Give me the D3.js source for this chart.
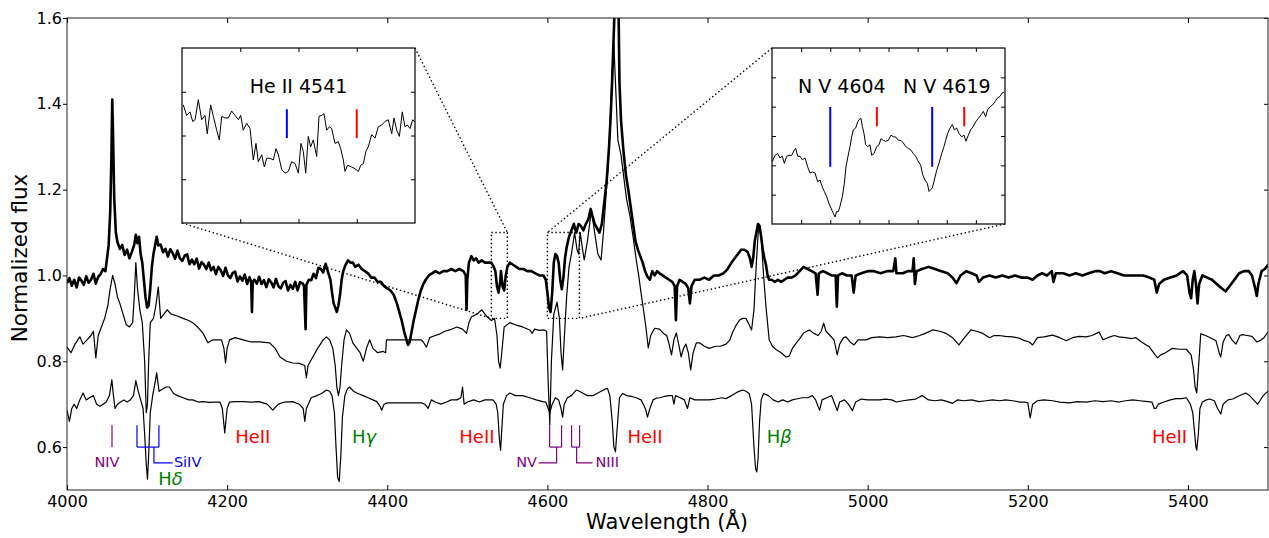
<!DOCTYPE html>
<html>
<head>
<meta charset="utf-8">
<script src="https://cdn.jsdelivr.net/npm/d3@7"></script>
<style>
  body { margin: 0; background: #fff; }
  svg { font-family: "DejaVu Sans", sans-serif; }
</style>
</head>
<body>
<svg id="chart" width="1269" height="538"></svg>
<script>
// --- data: [wavelength (A), normalized flux] ---
const topSpec = [
  [4000,0.982],[4003,0.994],[4006,0.976],[4009,0.99],[4012,0.972],[4015,0.995],[4018,0.988],[4021,0.978],[4024,0.998],[4027,0.983],
  [4030,0.99],[4033,1.004],[4036,0.981],[4039,0.997],[4042,1.003],[4045,1.015],[4048,1.01],[4050,1.04],[4052,1.07],[4054,1.15],
  [4055.5,1.28],[4056.5,1.41],[4057.5,1.33],[4059,1.18],[4061,1.1],[4063,1.078],[4066,1.062],[4069,1.071],[4072,1.048],[4075,1.06],
  [4078,1.04],[4081,1.055],[4084,1.072],[4086,1.095],[4088,1.075],[4090,1.09],[4092,1.05],[4094,1.03],[4096,0.99],[4098,0.95],
  [4100,0.925],[4102,0.93],[4104,0.97],[4106,1.02],[4108,1.05],[4110,1.07],[4112,1.09],[4114,1.07],[4117,1.072],[4120,1.054],
  [4123,1.062],[4126,1.044],[4129,1.061],[4132,1.052],[4135,1.039],[4138,1.058],[4141,1.04],[4144,1.034],[4147,1.046],[4150,1.049],
  [4153,1.026],[4156,1.037],[4159,1.026],[4162,1.039],[4165,1.016],[4168,1.031],[4171,1.025],[4174,1.015],[4177,1.03],[4180,1.012],
  [4183,1.02],[4186,1.003],[4189,1.02],[4192,1.012],[4195,0.999],[4198,1.018],[4201,1.0],[4204,0.994],[4207,1.006],[4210,1.009],
  [4213,0.986],[4216,0.998],[4219,0.988],[4222,1.002],[4225,0.98],[4228,0.996],[4230,0.985],[4231,0.915],[4232,0.985],[4234,0.99],
  [4237,0.981],[4240,0.997],[4243,0.98],[4246,0.989],[4249,0.973],[4252,0.991],[4255,0.984],[4258,0.972],[4261,0.992],[4264,0.975],
  [4267,0.97],[4270,0.983],[4273,0.987],[4276,0.965],[4279,0.978],[4282,0.969],[4285,0.985],[4288,0.965],[4291,0.984],[4294,0.982],
  [4296,0.976],[4298,0.875],[4299,0.978],[4302,0.99],[4305,0.989],[4308,1.004],[4311,0.994],[4314,1.018],[4317,1.015],[4320,1.007],
  [4323,1.027],[4326,1.008],[4329,0.99],[4331,0.96],[4333,0.935],[4335,0.925],[4337,0.915],[4339,0.93],[4341,0.955],[4343,0.99],
  [4345,1.01],[4348,1.025],[4351,1.035],[4354,1.03],[4357,1.03],[4360,1.02],[4364,1.025],[4368,1.015],[4372,1.01],[4376,1.005],
  [4380,0.995],[4384,0.995],[4388,0.985],[4392,0.985],[4396,0.975],[4400,0.97],[4404,0.965],[4408,0.955],[4412,0.935],[4415,0.915],
  [4418,0.895],[4421,0.87],[4424,0.85],[4426,0.838],[4428,0.845],[4430,0.865],[4433,0.895],[4436,0.92],[4439,0.945],[4442,0.965],
  [4445,0.98],[4448,0.99],[4452,1.0],[4456,1.005],[4460,1.01],[4465,1.005],[4470,1.01],[4475,1.01],[4480,1.015],[4485,1.01],
  [4490,1.015],[4495,1.01],[4498,1.0],[4499,0.92],[4500,0.99],[4502,1.03],[4505,1.045],[4508,1.035],[4511,1.04],[4514,1.03],
  [4518,1.035],[4522,1.03],[4526,1.03],[4530,1.03],[4533,1.02],[4535,1.01],[4537,0.975],[4539,0.96],[4541,0.985],[4542,1.01],
  [4544,0.975],[4546,0.965],[4548,1.0],[4550,1.02],[4553,1.03],[4557,1.025],[4561,1.02],[4565,1.015],[4570,1.015],[4575,1.01],
  [4580,1.01],[4585,1.005],[4590,1.0],[4595,1.0],[4598,0.99],[4600,0.96],[4602,0.925],[4604,0.915],[4606,0.96],[4608,1.03],
  [4610,1.05],[4612,1.045],[4614,1.03],[4616,0.99],[4618,0.968],[4620,0.995],[4622,1.04],[4624,1.065],[4627,1.09],[4630,1.105],
  [4633,1.12],[4636,1.1],[4639,1.12],[4642,1.115],[4645,1.105],[4648,1.12],[4651,1.13],[4654,1.155],[4656,1.14],[4659,1.12],
  [4662,1.11],[4665,1.1],[4668,1.12],[4671,1.17],[4674,1.22],[4677,1.3],[4679,1.37],[4681,1.46],[4683,1.57],[4685,1.68],
  [4687,1.72],[4689,1.6],[4690,1.45],[4692,1.36],[4695,1.29],[4698,1.235],[4701,1.2],[4704,1.16],[4707,1.12],[4710,1.08],
  [4713,1.06],[4716,1.045],[4719,1.03],[4722,1.01],[4725,0.997],[4728,0.99],[4731,1.01],[4734,1.0],[4737,1.01],[4740,1.005],
  [4744,1.0],[4748,0.995],[4752,0.99],[4756,0.985],[4759,0.975],[4760.5,0.896],[4762,0.975],[4765,0.99],[4769,0.985],[4773,0.98],
  [4776,0.97],[4778,0.935],[4780,0.975],[4784,0.99],[4790,0.99],[4796,0.995],[4802,0.99],[4808,1.0],[4814,1.0],[4820,1.005],
  [4825,1.015],[4830,1.03],[4834,1.04],[4838,1.05],[4842,1.06],[4846,1.06],[4850,1.055],[4853,1.04],[4855,1.02],[4857,1.04],
  [4859,1.08],[4861,1.1],[4863,1.12],[4865,1.115],[4867,1.09],[4869,1.06],[4871,1.04],[4873,1.025],[4875,1.0],[4877,0.99],
  [4880,0.99],[4884,0.985],[4888,0.99],[4892,0.985],[4896,0.99],[4900,0.995],[4905,0.995],[4910,1.0],[4915,1.01],[4920,1.02],
  [4925,1.015],[4930,1.01],[4935,1.005],[4937.5,0.955],[4939,1.005],[4944,1.01],[4950,1.005],[4955,1.0],[4960,1.0],[4961.5,0.927],
  [4963,1.0],[4968,1.005],[4974,1.0],[4980,1.0],[4982.5,0.96],[4985,1.0],[4992,1.005],[5000,1.01],[5008,1.01],[5016,1.005],
  [5024,1.01],[5032,1.01],[5034.5,1.04],[5036,1.005],[5044,1.005],[5050,1.01],[5056,1.01],[5057.5,1.04],[5059,0.98],[5061,1.01],
  [5068,1.015],[5076,1.02],[5084,1.015],[5092,1.01],[5100,1.005],[5106,0.995],[5111,0.982],[5116,1.0],[5123,1.01],[5130,1.005],
  [5136,1.0],[5139,0.985],[5144,0.995],[5152,1.0],[5160,0.995],[5168,1.0],[5176,0.995],[5184,1.0],[5192,0.995],[5200,0.995],
  [5206,0.99],[5212,1.0],[5218,1.005],[5224,1.0],[5230,1.01],[5232,0.985],[5235,1.005],[5244,1.005],[5252,1.0],[5260,1.005],
  [5268,1.0],[5276,1.005],[5284,1.01],[5290,1.01],[5296,1.005],[5304,1.01],[5312,1.005],[5320,1.0],[5328,1.0],[5336,1.0],
  [5344,1.0],[5352,0.995],[5358,0.99],[5361,0.96],[5364,0.98],[5370,0.99],[5378,0.995],[5386,1.0],[5394,1.01],[5399,1.0],
  [5402,0.96],[5404,0.947],[5406,0.99],[5408,1.01],[5410,0.98],[5412,0.935],[5414,0.98],[5418,1.0],[5424,0.995],[5430,0.99],
  [5436,0.98],[5442,0.97],[5447,0.963],[5452,0.975],[5458,0.99],[5464,1.005],[5470,1.01],[5476,1.01],[5480,1.0],[5484,0.97],
  [5486,0.952],[5488,0.98],[5492,1.01],[5496,1.015],[5500,1.025]
]

const midSpec = [
  [4000,0.833],[4005,0.82],[4010,0.84],[4016,0.857],[4020,0.84],[4025,0.85],[4030,0.86],[4033,0.87],[4036,0.808],[4039,0.86],
  [4043,0.88],[4047,0.9],[4051,0.93],[4054,0.97],[4057,1.0],[4060,0.98],[4063,0.95],[4066,0.935],[4070,0.91],[4074,0.885],
  [4078,0.88],[4082,0.89],[4084,0.95],[4086,1.03],[4088,0.97],[4091,0.92],[4094,0.89],[4097,0.8],[4099,0.68],[4100.5,0.7],
  [4102,0.8],[4104,0.89],[4108,0.9],[4111,0.93],[4114,0.973],[4117,0.9],[4121,0.91],[4125,0.92],[4130,0.91],[4137,0.906],
  [4145,0.9],[4152,0.895],[4157,0.89],[4163,0.88],[4170,0.865],[4176,0.843],[4182,0.85],[4188,0.85],[4193,0.85],[4196,0.83],
  [4198,0.796],[4200,0.83],[4203,0.85],[4210,0.855],[4220,0.85],[4230,0.845],[4241,0.845],[4253,0.843],[4260,0.83],[4266,0.81],
  [4274,0.8],[4282,0.796],[4290,0.795],[4297,0.79],[4299,0.761],[4301,0.79],[4307,0.81],[4313,0.83],[4320,0.85],[4324,0.857],
  [4328,0.85],[4332,0.83],[4335,0.79],[4337,0.74],[4339,0.72],[4341,0.74],[4343,0.79],[4346,0.85],[4349,0.873],[4353,0.865],
  [4357,0.843],[4362,0.83],[4366,0.82],[4370,0.8],[4374,0.83],[4378,0.85],[4382,0.83],[4388,0.82],[4395,0.823],[4398,0.82],
  [4399,0.85],[4442,0.85],[4445,0.845],[4449,0.833],[4453,0.855],[4460,0.86],[4466,0.864],[4472,0.87],[4478,0.873],[4487,0.88],
  [4494,0.875],[4499,0.865],[4502,0.89],[4505,0.903],[4512,0.91],[4518,0.92],[4524,0.905],[4530,0.895],[4534,0.9],[4537,0.86],
  [4539,0.8],[4541,0.784],[4543,0.82],[4546,0.88],[4553,0.89],[4560,0.885],[4569,0.88],[4578,0.873],[4581,0.865],[4584,0.875],
  [4590,0.872],[4596,0.873],[4599,0.87],[4601,0.75],[4603,0.652],[4605,0.8],[4608,0.91],[4612,0.938],[4615,0.9],[4617,0.82],
  [4619,0.78],[4621,0.85],[4624,0.95],[4627,1.02],[4630,1.05],[4634,1.1],[4637,1.06],[4639,1.05],[4641,1.1],[4644,1.06],
  [4646,1.036],[4650,1.08],[4655,1.153],[4659,1.1],[4663,1.05],[4667,1.036],[4670,1.1],[4673,1.18],[4676,1.26],[4679,1.38],
  [4681,1.48],[4683,1.54],[4685,1.45],[4688,1.316],[4692,1.28],[4696,1.22],[4699,1.176],[4703,1.14],[4707,1.09],[4711,1.036],
  [4714,1.0],[4717,0.959],[4720,0.92],[4723,0.88],[4726,0.831],[4729,0.86],[4734,0.877],[4740,0.875],[4745,0.865],[4749,0.86],
  [4752,0.84],[4755,0.815],[4758,0.85],[4761,0.866],[4764,0.84],[4767,0.81],[4770,0.83],[4773,0.84],[4776,0.82],[4779,0.78],
  [4782,0.82],[4786,0.843],[4790,0.843],[4796,0.835],[4802,0.83],[4810,0.835],[4816,0.835],[4823,0.84],[4828,0.85],[4831,0.866],
  [4836,0.885],[4840,0.896],[4844,0.9],[4848,0.9],[4852,0.885],[4855,0.873],[4858,0.92],[4861,1.03],[4864,1.12],[4867,1.09],
  [4870,1.0],[4873,0.927],[4877,0.85],[4881,0.835],[4886,0.827],[4892,0.82],[4898,0.81],[4902,0.812],[4906,0.83],[4911,0.843],
  [4916,0.855],[4920,0.866],[4927,0.873],[4933,0.865],[4938,0.86],[4942,0.87],[4945,0.889],[4948,0.87],[4953,0.86],[4958,0.85],
  [4962,0.815],[4965,0.84],[4970,0.855],[4973,0.857],[4978,0.845],[4983,0.838],[4988,0.85],[4994,0.85],[4998,0.85],[5005,0.855],
  [5015,0.857],[5025,0.855],[5035,0.857],[5045,0.86],[5056,0.855],[5065,0.86],[5072,0.865],[5081,0.873],[5090,0.87],[5098,0.865],
  [5106,0.855],[5114,0.838],[5121,0.855],[5129,0.873],[5136,0.87],[5144,0.865],[5152,0.855],[5158,0.86],[5164,0.86],[5172,0.858],
  [5181,0.857],[5189,0.854],[5196,0.848],[5202,0.845],[5206,0.838],[5212,0.855],[5220,0.857],[5231,0.861],[5240,0.855],[5248,0.848],
  [5256,0.855],[5264,0.858],[5273,0.857],[5280,0.86],[5289,0.868],[5294,0.85],[5300,0.855],[5308,0.86],[5314,0.857],[5322,0.855],
  [5330,0.853],[5335,0.855],[5342,0.845],[5352,0.833],[5357,0.82],[5362,0.808],[5366,0.815],[5372,0.82],[5380,0.83],[5390,0.828],
  [5398,0.828],[5404,0.815],[5407,0.78],[5409,0.74],[5411,0.726],[5413,0.78],[5416,0.864],[5422,0.86],[5428,0.855],[5435,0.848],
  [5439,0.82],[5441,0.81],[5444,0.845],[5448,0.86],[5451,0.862],[5455,0.85],[5460,0.84],[5465,0.86],[5468,0.862],[5474,0.86],
  [5480,0.858],[5486,0.845],[5490,0.848],[5495,0.855],[5500,0.868]
]

const lowSpec = [
  [4000,0.686],[4003,0.66],[4006,0.69],[4009,0.7],[4012,0.69],[4016,0.71],[4020,0.726],[4024,0.71],[4028,0.715],[4033,0.72],
  [4037,0.7],[4041,0.695],[4045,0.7],[4049,0.705],[4053,0.72],[4056,0.757],[4058,0.72],[4060,0.69],[4063,0.7],[4067,0.705],
  [4071,0.71],[4075,0.705],[4079,0.71],[4083,0.72],[4086,0.755],[4089,0.73],[4092,0.71],[4095,0.69],[4097,0.63],[4099,0.56],
  [4100.5,0.525],[4102,0.58],[4104,0.68],[4107,0.72],[4110,0.75],[4112,0.773],[4115,0.73],[4119,0.735],[4124,0.74],[4128,0.74],
  [4133,0.725],[4138,0.72],[4145,0.715],[4152,0.71],[4157,0.71],[4164,0.705],[4170,0.706],[4178,0.704],[4185,0.705],[4191,0.705],
  [4194,0.69],[4197,0.633],[4200,0.69],[4203,0.705],[4210,0.706],[4220,0.706],[4230,0.705],[4240,0.706],[4250,0.7],[4257,0.686],
  [4264,0.7],[4272,0.705],[4282,0.706],[4290,0.7],[4295,0.69],[4297,0.66],[4299,0.69],[4305,0.715],[4312,0.72],[4318,0.725],
  [4324,0.733],[4328,0.73],[4331,0.72],[4334,0.68],[4336,0.6],[4338,0.53],[4340,0.52],[4342,0.58],[4344,0.67],[4347,0.72],
  [4350,0.735],[4353,0.74],[4358,0.73],[4363,0.725],[4370,0.72],[4376,0.715],[4382,0.71],[4387,0.706],[4391,0.695],[4393,0.686],
  [4396,0.7],[4400,0.703],[4443,0.703],[4447,0.7],[4451,0.69],[4455,0.71],[4460,0.705],[4467,0.7],[4474,0.705],[4480,0.71],
  [4487,0.71],[4492,0.715],[4494,0.74],[4496,0.7],[4500,0.705],[4508,0.71],[4515,0.705],[4522,0.71],[4528,0.71],[4532,0.71],
  [4536,0.7],[4538,0.68],[4540,0.62],[4541.5,0.593],[4543,0.64],[4545,0.7],[4549,0.72],[4553,0.726],[4560,0.72],[4569,0.72],
  [4578,0.715],[4586,0.71],[4594,0.706],[4598,0.705],[4601,0.69],[4603,0.68],[4606,0.7],[4610,0.715],[4614,0.71],[4617,0.69],
  [4619,0.67],[4621,0.7],[4625,0.715],[4630,0.72],[4636,0.733],[4640,0.73],[4645,0.725],[4650,0.72],[4657,0.72],[4662,0.725],
  [4667,0.73],[4672,0.735],[4675,0.737],[4678,0.72],[4681,0.66],[4683,0.6],[4685,0.589],[4687,0.64],[4690,0.715],[4694,0.725],
  [4699,0.72],[4705,0.718],[4711,0.715],[4717,0.71],[4721,0.695],[4723,0.686],[4725,0.67],[4728,0.69],[4732,0.71],[4736,0.714],
  [4740,0.715],[4746,0.718],[4752,0.72],[4756,0.72],[4758,0.7],[4760,0.72],[4766,0.715],[4771,0.71],[4775,0.69],[4778,0.715],
  [4784,0.71],[4790,0.71],[4796,0.71],[4802,0.71],[4810,0.712],[4818,0.715],[4823,0.713],[4830,0.72],[4837,0.728],[4844,0.733],
  [4848,0.73],[4852,0.725],[4855,0.7],[4858,0.6],[4860,0.55],[4861.5,0.542],[4863,0.57],[4865,0.66],[4867,0.71],[4870,0.725],
  [4876,0.72],[4882,0.71],[4888,0.705],[4894,0.71],[4900,0.705],[4906,0.71],[4911,0.712],[4918,0.715],[4925,0.715],[4931,0.72],
  [4935,0.71],[4938,0.695],[4940,0.686],[4943,0.71],[4949,0.715],[4955,0.72],[4959,0.7],[4962,0.685],[4965,0.705],[4971,0.71],
  [4976,0.7],[4981,0.685],[4985,0.705],[4992,0.712],[5000,0.71],[5008,0.71],[5015,0.71],[5022,0.712],[5030,0.71],[5036,0.705],
  [5044,0.708],[5052,0.71],[5060,0.712],[5068,0.72],[5076,0.71],[5084,0.708],[5092,0.71],[5100,0.706],[5106,0.702],[5112,0.71],
  [5120,0.708],[5130,0.71],[5139,0.706],[5148,0.708],[5156,0.71],[5165,0.708],[5172,0.71],[5181,0.708],[5190,0.705],[5196,0.705],
  [5200,0.703],[5203,0.668],[5206,0.7],[5212,0.708],[5220,0.71],[5231,0.708],[5240,0.705],[5252,0.703],[5262,0.706],[5273,0.705],
  [5284,0.708],[5294,0.706],[5304,0.708],[5314,0.705],[5322,0.708],[5331,0.71],[5340,0.708],[5350,0.706],[5355,0.705],[5358,0.69],
  [5360,0.69],[5363,0.7],[5370,0.705],[5378,0.71],[5385,0.713],[5392,0.713],[5398,0.715],[5403,0.7],[5406,0.68],[5408,0.64],
  [5410,0.6],[5411,0.593],[5413,0.63],[5415,0.69],[5418,0.705],[5423,0.71],[5427,0.712],[5433,0.708],[5437,0.69],[5441,0.677],
  [5444,0.7],[5450,0.71],[5456,0.712],[5462,0.718],[5467,0.722],[5472,0.726],[5477,0.72],[5482,0.71],[5487,0.7],[5490,0.708],
  [5494,0.72],[5500,0.73]
]

// close-up of He II 4541 (left inset)
const heiiZoom = [
  [4530.11,1.035],[4530.40,1.023],[4530.69,1.027],[4530.92,1.016],[4531.12,1.018],[4531.40,1.041],[4531.69,1.018],[4531.97,1.023],
  [4532.17,1.002],[4532.46,1.035],[4532.69,1.022],[4532.98,1.006],[4533.20,0.995],[4533.41,1.022],[4533.69,1.020],[4533.98,1.020],
  [4534.26,1.028],[4534.55,1.023],[4534.84,1.018],[4535.04,1.023],[4535.26,1.006],[4535.55,1.014],[4535.84,1.008],[4536.12,0.972],
  [4536.35,0.991],[4536.55,0.970],[4536.84,0.978],[4537.07,0.964],[4537.27,0.974],[4537.55,0.974],[4537.84,0.972],[4538.07,0.985],
  [4538.27,0.978],[4538.56,0.961],[4538.84,0.957],[4539.13,0.959],[4539.41,0.970],[4539.70,0.968],[4539.99,0.957],[4540.21,0.991],
  [4540.41,0.982],[4540.62,0.957],[4540.84,0.999],[4541.04,0.987],[4541.27,0.995],[4541.56,0.976],[4541.76,1.022],[4541.99,1.023],
  [4542.19,1.025],[4542.42,1.006],[4542.65,1.010],[4542.85,1.008],[4543.13,0.991],[4543.42,0.993],[4543.62,0.985],[4543.85,0.972],
  [4543.99,0.959],[4544.22,0.966],[4544.56,0.964],[4544.85,0.962],[4545.14,0.959],[4545.34,0.966],[4545.57,0.968],[4545.79,0.982],
  [4545.99,0.987],[4546.28,1.001],[4546.57,0.997],[4546.85,1.010],[4547.14,1.012],[4547.42,1.016],[4547.71,1.018],[4548.00,1.002],
  [4548.20,1.020],[4548.43,1.006],[4548.66,0.999],[4548.91,1.027],[4549.14,1.010],[4549.34,1.012],[4549.57,1.008],[4549.80,1.018],
  [4550.00,1.015]
]

// close-up of N V 4604 / 4619 (right inset)
const nvZoom = [
  [4600.06,0.971],[4600.52,0.978],[4600.97,0.980],[4601.37,0.975],[4601.77,0.977],[4602.12,0.969],[4602.52,0.977],[4602.92,0.978],
  [4603.38,0.978],[4603.83,0.984],[4604.06,0.986],[4604.41,0.977],[4604.81,0.977],[4605.21,0.973],[4605.67,0.975],[4606.12,0.965],
  [4606.52,0.958],[4606.92,0.959],[4607.38,0.958],[4607.84,0.948],[4608.24,0.950],[4608.64,0.942],[4608.98,0.937],[4609.39,0.931],
  [4609.79,0.923],[4610.13,0.918],[4610.53,0.912],[4610.82,0.908],[4611.10,0.914],[4611.39,0.914],[4611.67,0.920],[4612.07,0.931],
  [4612.42,0.946],[4612.70,0.965],[4612.99,0.975],[4613.39,0.988],[4613.68,0.999],[4613.96,1.007],[4614.36,1.009],[4614.71,1.016],
  [4614.99,1.019],[4615.28,1.020],[4615.51,1.011],[4615.79,1.003],[4616.08,0.990],[4616.42,0.988],[4616.82,0.990],[4617.11,0.978],
  [4617.51,0.980],[4617.97,0.988],[4618.37,0.990],[4618.71,0.997],[4619.11,0.995],[4619.51,0.994],[4619.97,0.995],[4620.43,1.001],
  [4620.83,0.999],[4621.23,0.999],[4621.69,0.995],[4622.15,0.995],[4622.55,0.992],[4622.95,0.988],[4623.40,0.986],[4623.86,0.984],
  [4624.26,0.980],[4624.66,0.977],[4625.12,0.971],[4625.52,0.967],[4625.87,0.956],[4626.27,0.950],[4626.67,0.946],[4626.95,0.937],
  [4627.24,0.939],[4627.52,0.941],[4627.87,0.950],[4628.27,0.961],[4628.67,0.969],[4629.13,0.980],[4629.53,0.988],[4629.81,0.995],
  [4630.16,1.003],[4630.56,1.009],[4630.96,1.013],[4631.30,1.007],[4631.70,1.009],[4632.10,1.003],[4632.56,0.999],[4632.96,1.001],
  [4633.30,0.994],[4633.71,1.001],[4634.11,1.007],[4634.56,1.011],[4634.96,1.016],[4635.42,1.020],[4635.88,1.024],[4636.28,1.028],
  [4636.68,1.022],[4637.02,1.030],[4637.42,1.033],[4637.83,1.035],[4638.28,1.039],[4638.68,1.043],[4639.14,1.045],[4639.54,1.049],
  [4639.89,1.050]
]

const xTicks = [4000, 4200, 4400, 4600, 4800, 5000, 5200, 5400]
const yTicks = [0.6, 0.8, 1.0, 1.2, 1.4, 1.6]

// rest-frame markers inside the insets: kind b = blue, r = red
const heiiMarks = [
  { lam: 4539.0, lo: 0.997, hi: 1.030, kind: 'b' },
  { lam: 4545.0, lo: 0.997, hi: 1.030, kind: 'r' },
]
const nvMarks = [
  { lam: 4610.0, lo: 0.965, hi: 1.033, kind: 'b' },
  { lam: 4618.0, lo: 1.011, hi: 1.033, kind: 'r' },
  { lam: 4627.5, lo: 0.965, hi: 1.033, kind: 'b' },
  { lam: 4633.0, lo: 1.011, hi: 1.033, kind: 'r' },
]
const heiiTitles = [{ text: 'He II 4541', lam: 4540.0, flux: 1.049 }]
const nvTitles = [
  { text: 'N V 4604', lam: 4612.0, flux: 1.049 },
  { text: 'N V 4619', lam: 4630.0, flux: 1.049 },
]

// line identifications below the spectra
const lineLabels = [
  { name: 'HeII', greek: '', lam: 4210, flux: 0.61, kind: 'he' },
  { name: 'HeII', greek: '', lam: 4490, flux: 0.61, kind: 'he' },
  { name: 'HeII', greek: '', lam: 4700, flux: 0.61, kind: 'he' },
  { name: 'HeII', greek: '', lam: 5355, flux: 0.61, kind: 'he' },
  { name: 'H', greek: 'γ', lam: 4356, flux: 0.61, kind: 'h' },
  { name: 'H', greek: 'β', lam: 4874, flux: 0.61, kind: 'h' },
  { name: 'H', greek: 'δ', lam: 4114, flux: 0.511, kind: 'h' },
]
const brackets = [
  { name: 'NIV',  lams: [4056.2],         stem: null,   tail: null,   textLam: 4050,   anchor: 'middle', kind: 'n' },
  { name: 'SiIV', lams: [4087.4, 4114.8], stem: 4108.6, tail: 4132,   textLam: 4133.5, anchor: 'start',  kind: 'si' },
  { name: 'NV',   lams: [4602.8, 4617.7], stem: 4611.5, tail: 4589,   textLam: 4587,   anchor: 'end',    kind: 'n' },
  { name: 'NIII', lams: [4630.2, 4640.2], stem: 4636.5, tail: 4656.4, textLam: 4660,   anchor: 'start',  kind: 'n' },
]
const bracketTop = 0.651, bracketBar = 0.600, bracketTail = 0.563, bracketText = 0.553

const KIND_COLORS = { he: '#ff0000', h: '#008000', n: '#800080', si: '#0000ff', b: '#0000ff', r: '#ff0000' }

// --- layout ---
const svg = d3.select('#chart')
const x = d3.scaleLinear().domain([4000, 5500]).range([67, 1268])
const y = d3.scaleLinear().domain([0.5, 1.6]).range([490, 18])

svg.append('defs').append('clipPath').attr('id', 'plot-clip')
  .append('rect').attr('x', 67).attr('y', 18).attr('width', 1201).attr('height', 472)

const plot = svg.append('g').attr('clip-path', 'url(#plot-clip)')
const line = d3.line().x(d => x(d[0])).y(d => y(d[1]))

// zoom boxes + connectors (dotted)
const insets = [
  { box: { x0: 182, x1: 415, y0: 48, y1: 223 }, xd: [4530, 4550], yd: [0.9, 1.1],
    xt: [4535, 4540, 4545], yt: [0.95, 1.0, 1.05], data: heiiZoom, marks: heiiMarks, titles: heiiTitles,
    links: [['x1', 'y0'], ['x0', 'y1']] },
  { box: { x0: 772, x1: 1005, y0: 48, y1: 224 }, xd: [4600, 4640], yd: [0.9, 1.1],
    xt: [4605, 4610, 4615, 4620, 4625, 4630, 4635], yt: [1, 2, 3, 4, 5].map(i => 0.9 + i * 0.2 / 6),
    data: nvZoom, marks: nvMarks, titles: nvTitles,
    links: [['x0', 'y0'], ['x1', 'y1']] },
]

const dotted = svg.append('g').attr('fill', 'none').attr('stroke', '#000')
  .attr('stroke-width', 1.4).attr('stroke-dasharray', '1.4,2.6')

insets.forEach(ins => {
  const r = { x0: x(ins.xd[0]), x1: x(ins.xd[1]), y0: y(ins.yd[1]), y1: y(ins.yd[0]) }
  dotted.append('rect').attr('x', r.x0).attr('y', r.y0)
    .attr('width', r.x1 - r.x0).attr('height', r.y1 - r.y0)
  ins.links.forEach(([cx, cy]) => {
    dotted.append('line')
      .attr('x1', ins.box[cx]).attr('y1', ins.box[cy])
      .attr('x2', r[cx]).attr('y2', r[cy])
  })
})

// spectra
plot.append('path').datum(lowSpec).attr('d', line)
  .attr('fill', 'none').attr('stroke', '#000').attr('stroke-width', 1.2).attr('stroke-linejoin', 'round')
plot.append('path').datum(midSpec).attr('d', line)
  .attr('fill', 'none').attr('stroke', '#000').attr('stroke-width', 1.2).attr('stroke-linejoin', 'round')
plot.append('path').datum(topSpec).attr('d', line)
  .attr('fill', 'none').attr('stroke', '#000').attr('stroke-width', 2.6).attr('stroke-linejoin', 'round')

// line identifications
const ids = svg.append('g')
brackets.forEach(b => {
  const col = KIND_COLORS[b.kind]
  const g = ids.append('g').attr('stroke', col).attr('stroke-width', 1.2).attr('fill', 'none')
  b.lams.forEach(l => {
    g.append('line').attr('x1', x(l)).attr('x2', x(l)).attr('y1', y(bracketTop)).attr('y2', y(bracketBar))
  })
  if (b.lams.length > 1) {
    g.append('line').attr('x1', x(b.lams[0])).attr('x2', x(b.lams[1]))
      .attr('y1', y(bracketBar)).attr('y2', y(bracketBar))
    g.append('polyline').attr('points', [
      [x(b.stem), y(bracketBar)], [x(b.stem), y(bracketTail)], [x(b.tail), y(bracketTail)]
    ].map(p => p.join(',')).join(' '))
  }
  ids.append('text').attr('x', x(b.textLam)).attr('y', y(bracketText))
    .attr('text-anchor', b.anchor).attr('font-size', 14.5).attr('fill', col).text(b.name)
})

lineLabels.forEach(d => {
  const t = ids.append('text').attr('x', x(d.lam)).attr('y', y(d.flux))
    .attr('font-size', 18).attr('fill', KIND_COLORS[d.kind])
  t.append('tspan').text(d.name)
  if (d.greek) t.append('tspan').attr('font-style', 'italic').text(d.greek)
})

// insets
insets.forEach((ins, i) => {
  const b = ins.box
  const ix = d3.scaleLinear().domain(ins.xd).range([b.x0, b.x1])
  const iy = d3.scaleLinear().domain(ins.yd).range([b.y1, b.y0])
  const g = svg.append('g')
  g.append('rect').attr('x', b.x0).attr('y', b.y0)
    .attr('width', b.x1 - b.x0).attr('height', b.y1 - b.y0).attr('fill', '#fff')

  g.append('defs').append('clipPath').attr('id', 'inset-clip-' + i)
    .append('rect').attr('x', b.x0).attr('y', b.y0).attr('width', b.x1 - b.x0).attr('height', b.y1 - b.y0)
  g.append('path').datum(ins.data)
    .attr('clip-path', `url(#inset-clip-${i})`)
    .attr('d', d3.line().x(d => ix(d[0])).y(d => iy(d[1])))
    .attr('fill', 'none').attr('stroke', '#000').attr('stroke-width', 1)

  const axes = [
    [d3.axisBottom(ix).tickValues(ins.xt), `translate(0,${b.y1})`],
    [d3.axisTop(ix).tickValues(ins.xt), `translate(0,${b.y0})`],
    [d3.axisLeft(iy).tickValues(ins.yt), `translate(${b.x0},0)`],
    [d3.axisRight(iy).tickValues(ins.yt), `translate(${b.x1},0)`],
  ]
  axes.forEach(([ax, tr]) => {
    const a = g.append('g').attr('transform', tr)
      .call(ax.tickSize(-4).tickSizeOuter(0).tickFormat(''))
    a.select('.domain').remove()
    a.selectAll('line').attr('stroke', '#000')
  })
  g.append('rect').attr('x', b.x0).attr('y', b.y0)
    .attr('width', b.x1 - b.x0).attr('height', b.y1 - b.y0)
    .attr('fill', 'none').attr('stroke', '#000').attr('stroke-width', 1.2)

  ins.marks.forEach(m => {
    g.append('line').attr('x1', ix(m.lam)).attr('x2', ix(m.lam))
      .attr('y1', iy(m.lo)).attr('y2', iy(m.hi))
      .attr('stroke', KIND_COLORS[m.kind]).attr('stroke-width', 2)
  })
  ins.titles.forEach(t => {
    g.append('text').attr('x', ix(t.lam)).attr('y', iy(t.flux))
      .attr('text-anchor', 'middle').attr('font-size', 19).attr('fill', '#000').text(t.text)
  })
})

// main axes
function styleAxis(a) {
  a.select('.domain').remove()
  a.selectAll('line').attr('stroke', '#000')
  a.selectAll('text').attr('font-size', 16).attr('fill', '#000').attr('font-family', '"DejaVu Sans", sans-serif')
}
svg.append('g').attr('transform', 'translate(0,490)')
  .call(d3.axisBottom(x).tickValues(xTicks).tickSize(-5).tickSizeOuter(0).tickPadding(6).tickFormat(d3.format('d')))
  .call(styleAxis)
svg.append('g').attr('transform', 'translate(0,18)')
  .call(d3.axisTop(x).tickValues(xTicks).tickSize(-5).tickSizeOuter(0).tickFormat(''))
  .call(styleAxis)
svg.append('g').attr('transform', 'translate(67,0)')
  .call(d3.axisLeft(y).tickValues(yTicks).tickSize(4).tickSizeOuter(0).tickPadding(1).tickFormat(d3.format('.1f')))
  .call(styleAxis)
svg.append('g').attr('transform', 'translate(1268,0)')
  .call(d3.axisRight(y).tickValues(yTicks).tickSize(-4).tickSizeOuter(0).tickFormat(''))
  .call(styleAxis)

svg.append('rect').attr('x', 67).attr('y', 18).attr('width', 1201).attr('height', 472)
  .attr('fill', 'none').attr('stroke', '#222').attr('stroke-width', 1)

svg.append('text').attr('x', 667).attr('y', 529).attr('text-anchor', 'middle')
  .attr('font-size', 21).attr('fill', '#000').text('Wavelength (Å)')
svg.append('text').attr('transform', 'translate(27,258) rotate(-90)').attr('text-anchor', 'middle')
  .attr('font-size', 21.5).attr('fill', '#000').text('Normalized flux')
</script>
</body>
</html>
